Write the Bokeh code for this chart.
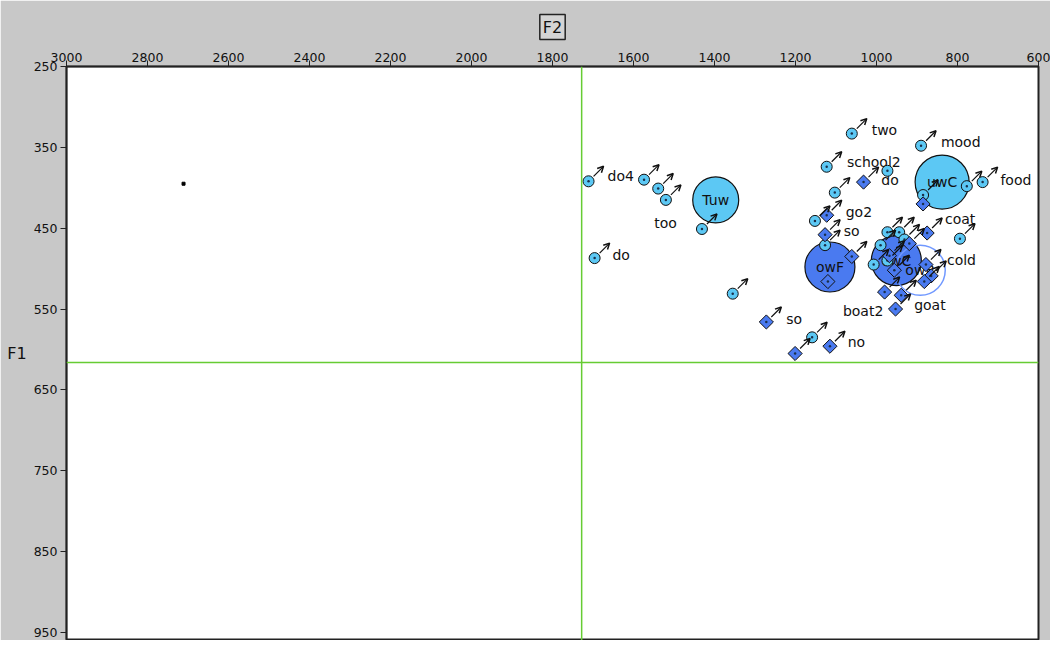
import numpy as np
from bokeh.plotting import figure
from bokeh.models import Range1d, FixedTicker, Span, Arrow, OpenHead, ColumnDataSource, Title
from bokeh.embed import file_html
from bokeh.resources import INLINE
from bokeh.core.properties import value

# ---------------- data ----------------
# /uw/ tokens (F2, F1 in Hz)
uw_f2 = [1711, 1574, 1539, 1520, 1431, 1696, 1355, 1061, 890, 1123, 973, 1103, 777, 738,
         885, 1152, 1127, 794, 973, 944, 931, 990, 1007, 973, 1159]
uw_f1 = [392, 390, 401, 415, 451, 487, 531, 333, 348, 374, 379, 406, 398, 393,
         409, 441, 471, 463, 455, 455, 464, 471, 495, 490, 585]
uw_glide = [1, 1, 1, 1, 1, 1, 1, 1, 1, 1, 0, 1, 1, 1,
            1, 1, 1, 1, 1, 1, 1, 1, 1, 1, 1]

# /ow/ tokens
ow_f2 = [1032, 885, 1123, 1127, 1061, 1120, 875, 919, 968, 956, 878, 865, 882, 980,
         939, 953, 1272, 1201, 1115]
ow_f1 = [393, 420, 434, 458, 485, 516, 456, 469, 484, 502, 495, 509, 516, 529,
         533, 550, 566, 605, 596]
ow_glide = [1, 0, 1, 1, 1, 0, 1, 1, 1, 1, 1, 1, 1, 1,
            1, 1, 1, 1, 1]

# word labels
word_text = ["do4", "too", "do", "two", "mood", "school2", "do", "food",
             "go2", "so", "coat", "cold", "goat", "boat2", "so", "no"]
word_f2 = [1664, 1549, 1652, 1012, 841, 1073, 988, 694,
           1076, 1081, 831, 826, 907, 1083, 1223, 1071]
word_f1 = [386, 444, 483, 328, 343, 368, 390, 390,
           430, 453, 439, 489, 545, 553, 562, 591]

# means
mean_text = ["Tuw", "uwC", "owF", "owC", "owR"]
mean_f2 = [1397, 838, 1115, 951, 892]
mean_f1 = [415, 393, 498, 490, 502]

# grand mean lines and stray point
center_f2 = 1728
center_f1 = 616
stray_f2 = [2711]
stray_f1 = [395]

x_ticks = [3000, 2800, 2600, 2400, 2200, 2000, 1800, 1600, 1400, 1200, 1000, 800, 600]
y_ticks = [250, 350, 450, 550, 650, 750, 850, 950]

# ---------------- styling ----------------
CYAN = "#5cc8f4"
BLUE = "#4a7af0"
GRAY = "#c8c8c8"
FONT = "DejaVu Sans"

W, H = 1050, 640
ML, MT, MR = 66, 66, 12
Y_END = 960

p = figure(width=W, height=H, output_backend="svg", toolbar_location=None,
           x_range=Range1d(3000, 600), y_range=Range1d(Y_END, 250),
           x_axis_location="above", min_border_left=ML, min_border_top=MT,
           min_border_right=MR, min_border_bottom=0)
p.background_fill_color = "white"
p.border_fill_color = GRAY
p.outline_line_color = "#222222"
p.outline_line_width = 2
p.grid.visible = False

for ax, ticks in ((p.xaxis[0], x_ticks), (p.yaxis[0], y_ticks)):
    ax.ticker = FixedTicker(ticks=ticks)
    ax.minor_tick_line_color = None
    ax.major_tick_in = 0
    ax.major_tick_out = 6
    ax.axis_line_color = "#222222"
    ax.axis_line_width = 1.5
    ax.major_tick_line_color = "#222222"
    ax.major_label_text_font = FONT
    ax.major_label_text_font_size = "12.5px"
    ax.major_label_text_color = "#111111"
p.xaxis[0].major_label_standoff = -1
p.yaxis[0].major_label_standoff = 3

# "F1" as a horizontal y-axis title
p.yaxis[0].axis_label = "F1"
p.yaxis[0].axis_label_orientation = "horizontal"
p.yaxis[0].axis_label_text_font = FONT
p.yaxis[0].axis_label_text_font_size = "16px"
p.yaxis[0].axis_label_text_font_style = "normal"
p.yaxis[0].axis_label_text_color = "#111111"
p.yaxis[0].axis_label_standoff = 4

# boxed "F2" title above the top axis
t2 = Title(text="F2", align="center", text_font=FONT, text_font_size="16px",
           text_font_style="normal", text_color="#111111", standoff=20,
           background_fill_color="#d4d4d4", border_line_color="#222222",
           border_line_width=1.5, padding=3)
p.add_layout(t2, "above")

p.add_layout(Span(location=center_f2, dimension="height", line_color="#66cc33", line_width=1.5))
p.add_layout(Span(location=center_f1, dimension="width", line_color="#66cc33", line_width=1.5))

# mean circles
mean_sizes = [46, 54, 50, 50, 50]
mean_fill = [CYAN, CYAN, BLUE, BLUE, None]
mean_line = ["#111111", "#111111", "#111111", "#111111", "#7098ff"]
msrc = ColumnDataSource(dict(x=mean_f2, y=mean_f1, t=mean_text))
for i in range(len(mean_f2)):
    if mean_fill[i] is None:
        p.scatter([mean_f2[i]], [mean_f1[i]], size=mean_sizes[i], marker="circle",
                  fill_color=None, line_color=mean_line[i], line_width=1.5)
    else:
        p.scatter([mean_f2[i]], [mean_f1[i]], size=mean_sizes[i], marker="circle",
                  fill_color=mean_fill[i], line_color=mean_line[i], line_width=1.2)
p.text(x="x", y="y", text="t", source=msrc, text_font=value(FONT), text_font_size="14px",
       text_align="center", text_baseline="middle", text_color="#111111")

# word labels
p.text(x=word_f2, y=word_f1, text=word_text, text_font=value(FONT), text_font_size="14px",
       text_align="left", text_baseline="middle", text_color="#111111")

# tokens
p.scatter(uw_f2, uw_f1, marker="circle", size=11, fill_color=CYAN, line_color="#111111", line_width=1)
p.scatter(uw_f2, uw_f1, marker="circle", size=2.5, fill_color="#1a2f4a", line_color=None)
p.scatter(ow_f2, ow_f1, marker="square", size=10, angle=np.pi / 4, fill_color=BLUE,
          line_color="#111111", line_width=1)
p.scatter(ow_f2, ow_f1, marker="circle", size=2.5, fill_color="#1a2f4a", line_color=None)

p.scatter(stray_f2, stray_f1, marker="square", size=3, fill_color="black", line_color="black")

# glide arrows (fixed screen-size offsets, converted to Hz)
px_x = (3000 - 600) / float(W - ML - MR)
px_y = (Y_END - 250) / float(H - MT)
gx = np.array([f for f, g in zip(uw_f2, uw_glide) if g] + [f for f, g in zip(ow_f2, ow_glide) if g], float)
gy = np.array([f for f, g in zip(uw_f1, uw_glide) if g] + [f for f, g in zip(ow_f1, ow_glide) if g], float)
asrc = ColumnDataSource(dict(xs=gx - 5 * px_x, ys=gy - 5 * px_y, xe=gx - 15 * px_x, ye=gy - 15 * px_y))
p.add_layout(Arrow(source=asrc, x_start="xs", y_start="ys", x_end="xe", y_end="ye",
                   line_color="#111111", line_width=1.2,
                   end=OpenHead(size=6, line_color="#111111", line_width=1.5)))

open("out.html", "w").write(file_html(p, INLINE))
